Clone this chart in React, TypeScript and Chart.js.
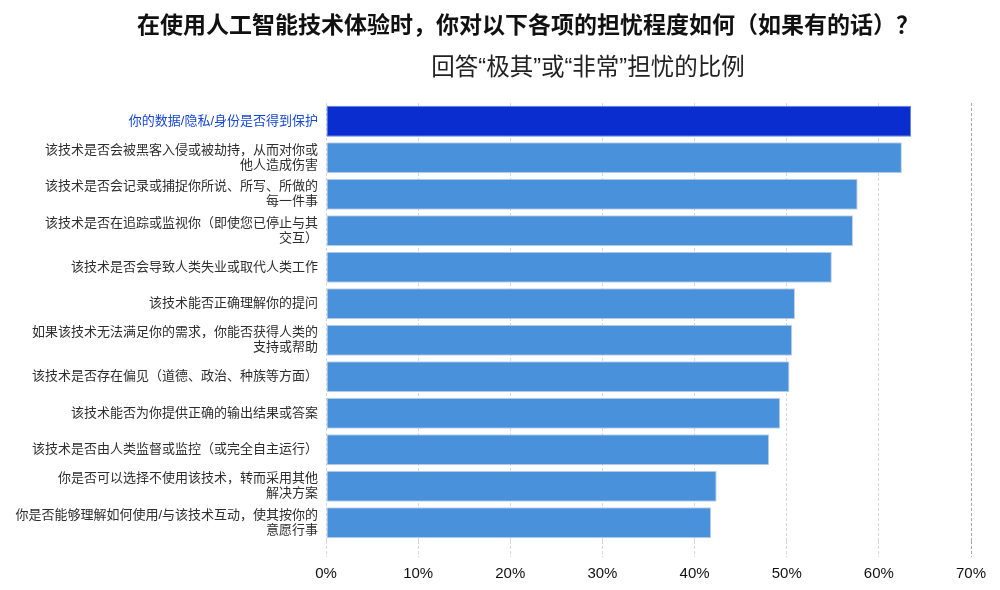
import { useEffect, useRef } from 'react';
import Chart from 'chart.js/auto';

const titleText = '在使用人工智能技术体验时，你对以下各项的担忧程度如何（如果有的话）？';
const subtitleText = '回答“极其”或“非常”担忧的比例';

const categories: string[][] = [
    ['你的数据/隐私/身份是否得到保护'],
    ['该技术是否会被黑客入侵或被劫持，从而对你或', '他人造成伤害'],
    ['该技术是否会记录或捕捉你所说、所写、所做的', '每一件事'],
    ['该技术是否在追踪或监视你（即使您已停止与其', '交互）'],
    ['该技术是否会导致人类失业或取代人类工作'],
    ['该技术能否正确理解你的提问'],
    ['如果该技术无法满足你的需求，你能否获得人类的', '支持或帮助'],
    ['该技术是否存在偏见（道德、政治、种族等方面）'],
    ['该技术能否为你提供正确的输出结果或答案'],
    ['该技术是否由人类监督或监控（或完全自主运行）'],
    ['你是否可以选择不使用该技术，转而采用其他', '解决方案'],
    ['你是否能够理解如何使用/与该技术互动，使其按你的', '意愿行事'],
];

const shares = [63.5, 62.5, 57.7, 57.2, 54.9, 50.9, 50.6, 50.3, 49.3, 48.1, 42.4, 41.8];

const xTicks = [0, 10, 20, 30, 40, 50, 60, 70];

const FONT = '"Liberation Sans", "Noto Sans CJK SC", sans-serif';

export default function App() {
    const canvasRef = useRef<HTMLCanvasElement | null>(null);

    useEffect(() => {
        if (!canvasRef.current) {
            return;
        }

        const chart = new Chart(canvasRef.current, {
            type: 'bar',
            data: {
                labels: categories,
                datasets: [
                    {
                        data: shares,
                        backgroundColor: shares.map((_, i) => (i === 0 ? '#0a2dcf' : '#4a91db')),
                        borderColor: shares.map((_, i) => (i === 0 ? '#5d86d8' : '#c5d2e2')),
                        borderWidth: 1,
                        borderSkipped: false,
                        categoryPercentage: 1,
                        barPercentage: 0.85,
                    },
                ],
            },
            options: {
                indexAxis: 'y',
                responsive: false,
                animation: false,
                layout: { padding: { top: 95, right: 21, bottom: 0, left: 0 } },
                plugins: {
                    legend: { display: false },
                    tooltip: { enabled: false },
                },
                scales: {
                    x: {
                        min: xTicks[0],
                        max: xTicks[xTicks.length - 1],
                        afterBuildTicks: (scale) => {
                            scale.ticks = xTicks.map((v) => ({ value: v }));
                        },
                        afterFit: (scale) => {
                            scale.height = 41;
                            scale.paddingLeft = 0;
                            scale.paddingRight = 0;
                        },
                        ticks: {
                            callback: (v) => `${v}%`,
                            color: '#111',
                            padding: 8,
                            font: { family: FONT, size: 15 },
                        },
                        grid: {
                            drawTicks: true,
                            tickLength: 16,
                            tickBorderDash: [3, 2],
                            color: (ctx) => (ctx.tick && ctx.tick.value === 70 ? '#a8a8a8' : '#d6d6d6'),
                            lineWidth: 1,
                        },
                        border: { display: false, dash: [3, 2] },
                    },
                    y: {
                        afterFit: (scale) => {
                            scale.width = 318;
                        },
                        ticks: {
                            color: (ctx) => (ctx.index === 0 ? '#1547d4' : '#2e2e2e'),
                            padding: 8,
                            font: { family: FONT, size: 13, lineHeight: 1.15 },
                        },
                        grid: { display: false, drawTicks: false },
                        border: { display: false },
                    },
                },
            },
        });
        return () => chart.destroy();
    }, []);

    return (
        <div style={{ position: 'relative', width: '984px', height: '574px', overflow: 'hidden', fontFamily: FONT }}>
            <canvas ref={canvasRef} width={984} height={574} style={{ display: 'block', position: 'absolute', left: 0, top: 0 }} />
            <div
                style={{
                    position: 'absolute',
                    left: '520px',
                    top: '4px',
                    transform: 'translateX(-50%)',
                    whiteSpace: 'nowrap',
                    fontSize: '23px',
                    fontWeight: 'bold',
                    lineHeight: '27px',
                    color: '#111',
                }}
            >
                {titleText}
            </div>
            <div
                style={{
                    position: 'absolute',
                    left: '580px',
                    top: '45px',
                    transform: 'translateX(-50%)',
                    whiteSpace: 'nowrap',
                    fontSize: '23.5px',
                    lineHeight: '28px',
                    color: '#222',
                }}
            >
                {subtitleText}
            </div>
        </div>
    );
}
